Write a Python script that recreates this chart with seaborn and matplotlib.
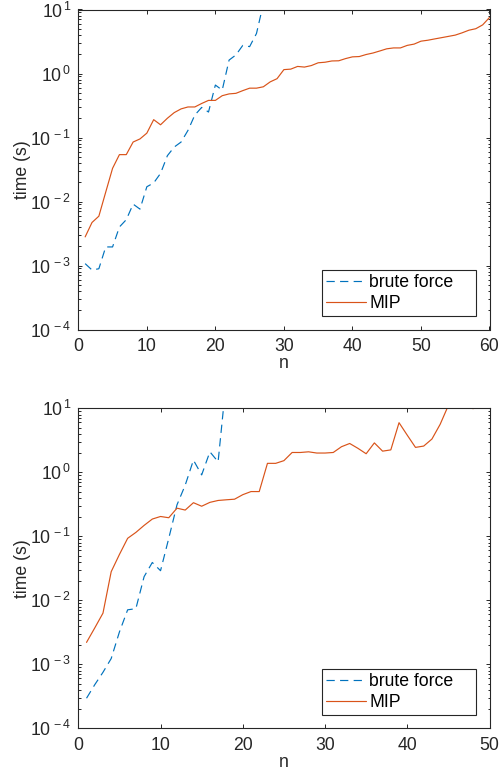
import numpy as np
import pandas as pd
import matplotlib
matplotlib.use("Agg")
import matplotlib.pyplot as plt
import matplotlib.ticker as mticker
import seaborn as sns

# ---------------- data ----------------
# top panel
top_mip_n = list(range(1, 61))
top_mip_t = [0.0028, 0.0047, 0.0059, 0.014, 0.033, 0.054, 0.054, 0.085, 0.095, 0.117,
             0.19, 0.158, 0.20, 0.245, 0.28, 0.30, 0.30, 0.34, 0.38, 0.38,
             0.45, 0.48, 0.49, 0.54, 0.59, 0.59, 0.62, 0.74, 0.83, 1.15,
             1.17, 1.29, 1.26, 1.33, 1.47, 1.50, 1.57, 1.58, 1.71, 1.82,
             1.84, 1.98, 2.09, 2.25, 2.43, 2.51, 2.51, 2.75, 2.88, 3.20,
             3.31, 3.47, 3.63, 3.80, 3.98, 4.32, 4.75, 5.01, 5.75, 7.50]
top_bf_n = list(range(1, 28))
top_bf_t = [0.00107, 0.00085, 0.00089, 0.00195, 0.00195, 0.0040, 0.0052, 0.0091, 0.0076, 0.017,
            0.0195, 0.0275, 0.052, 0.071, 0.085, 0.129, 0.224, 0.295, 0.25, 0.66,
            0.55, 1.62, 1.95, 2.75, 2.63, 4.22, 12.3]

# bottom panel
bot_mip_n = list(range(1, 51))
bot_mip_t = [0.0022, 0.0037, 0.0063, 0.028, 0.052, 0.093, 0.115, 0.148, 0.186, 0.204,
             0.195, 0.275, 0.257, 0.335, 0.295, 0.339, 0.363, 0.372, 0.38, 0.447,
             0.50, 0.50, 1.38, 1.38, 1.52, 2.04, 2.04, 2.09, 2.00, 2.00,
             2.04, 2.51, 2.82, 2.37, 1.95, 2.88, 2.14, 2.24, 5.96, 3.80,
             2.45, 2.57, 3.31, 5.62, 11.1, 14.0, 12.0, 9.85, 13.0, 16.0]
bot_bf_n = list(range(1, 19))
bot_bf_t = [0.000295, 0.00048, 0.00075, 0.00123, 0.0032, 0.0071, 0.0074, 0.0234, 0.039, 0.029,
            0.093, 0.31, 0.63, 1.55, 0.91, 2.09, 1.46, 28.0]

methods = ["brute force", "MIP"]
x_ticks_top = [0, 10, 20, 30, 40, 50, 60]
x_ticks_bot = [0, 10, 20, 30, 40, 50]
y_ticks = [1e-4, 1e-3, 1e-2, 1e-1, 1e0, 1e1]

# ---------------- style ----------------
sns.set_style("ticks")
plt.rcParams["font.family"] = ["Liberation Sans", "DejaVu Sans"]
plt.rcParams["mathtext.fontset"] = "custom"
plt.rcParams["mathtext.rm"] = "Liberation Sans"
plt.rcParams["mathtext.it"] = "Liberation Sans:italic"
plt.rcParams["mathtext.bf"] = "Liberation Sans:bold"

AX = "#262626"
palette = {"brute force": "#0072BD", "MIP": "#D95319"}
dashes = {"brute force": (7, 4.5), "MIP": ""}
FS = 12.7

W, H = 503, 779
fig = plt.figure(figsize=(W / 100, H / 100), dpi=100)


def make_df(bf_n, bf_t, mip_n, mip_t):
    return pd.DataFrame({
        "n": list(bf_n) + list(mip_n),
        "time": list(bf_t) + list(mip_t),
        "method": [methods[0]] * len(bf_n) + [methods[1]] * len(mip_n),
    })


def yfmt(v, pos):
    e = int(round(np.log10(v)))
    return r"$\mathregular{10^{\,%d}}$" % e


def panel(rect, df, xmax, xticks):
    ax = fig.add_axes(rect)
    sns.lineplot(data=df, x="n", y="time", hue="method", style="method",
                 palette=palette, dashes=dashes, hue_order=methods, style_order=methods,
                 estimator=None, sort=False, linewidth=0.85, ax=ax)
    ax.set_yscale("log")
    ax.set_xlim(0, xmax)
    ax.set_ylim(1e-4, 1e1)
    ax.set_xticks(xticks)
    ax.set_yticks(y_ticks)
    ax.yaxis.set_major_formatter(mticker.FuncFormatter(yfmt))
    ax.yaxis.set_minor_locator(mticker.LogLocator(base=10, subs=np.arange(2, 10), numticks=20))
    ax.yaxis.set_minor_formatter(mticker.NullFormatter())
    ax.tick_params(which="both", direction="in", top=True, right=True, color=AX,
                   labelcolor=AX, labelsize=FS, width=0.7)
    ax.tick_params(which="major", length=3.2, pad=5)
    ax.tick_params(axis="x", which="major", pad=6)
    ax.tick_params(which="minor", length=1.8)
    ax.tick_params(axis="x", which="minor", top=False, bottom=False)
    for s in ax.spines.values():
        s.set_visible(True)
        s.set_color(AX)
        s.set_linewidth(0.8)
    ax.set_xlabel("n", fontsize=FS, color=AX, labelpad=0)
    ax.set_ylabel("time (s)", fontsize=FS, color=AX, labelpad=-1)
    handles, labels = ax.get_legend_handles_labels()
    x0 = (322 - 78.3) / 411.2
    w = (476 - 322) / 411.2
    leg = ax.legend(handles, labels, loc="lower left", bbox_to_anchor=(x0, 0.042, w, 0.14),
                    mode="expand", borderaxespad=0, fontsize=FS, frameon=True, fancybox=False,
                    edgecolor=AX, framealpha=1, handlelength=2.25, handletextpad=0.2,
                    labelspacing=0.22, borderpad=0.22)
    leg.get_frame().set_linewidth(0.8)
    for t in leg.get_texts():
        t.set_color("black")
    return ax


left = 78.3 / W
width = (489.5 - 78.3) / W
panel([left, 1 - 329.5 / H, width, 320 / H],
      make_df(top_bf_n, top_bf_t, top_mip_n, top_mip_t), 60, x_ticks_top)
panel([left, 1 - 728.3 / H, width, 320 / H],
      make_df(bot_bf_n, bot_bf_t, bot_mip_n, bot_mip_t), 50, x_ticks_bot)

fig.savefig("out.png", dpi=100)
